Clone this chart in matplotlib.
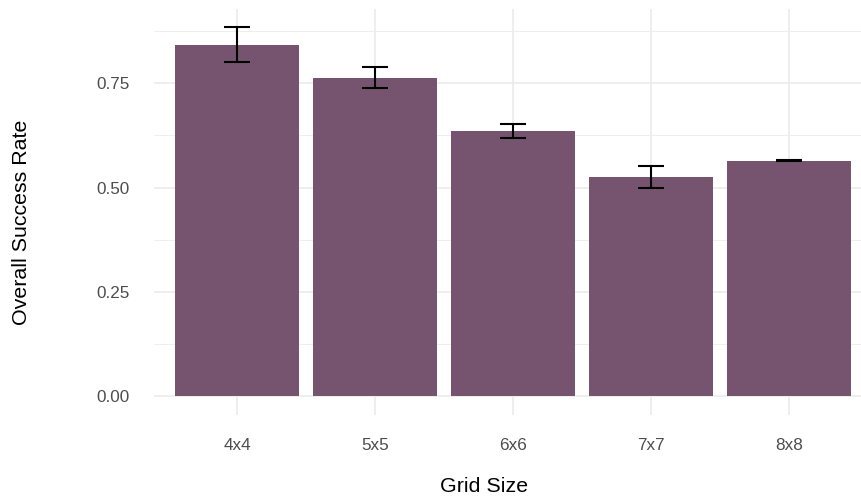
import matplotlib
matplotlib.use("Agg")
import matplotlib.pyplot as plt
import numpy as np

# Overall success rate by grid size (mean ± error)
grid_sizes = ["4x4", "5x5", "6x6", "7x7", "8x8"]
success_rate = [0.842, 0.764, 0.635, 0.526, 0.565]
rate_error = [0.042, 0.0245, 0.017, 0.0265, 0.001]
y_ticks = [0.00, 0.25, 0.50, 0.75]
y_tick_labels = ["0.00", "0.25", "0.50", "0.75"]

plt.rcParams["font.family"] = ["Liberation Sans", "DejaVu Sans"]

W, H = 862, 499
fig = plt.figure(figsize=(W / 100, H / 100), dpi=100)

# panel placement in pixels
left_px, right_px, top_px, bottom_px = 154.2, 871.8, 9.0, 414.7
ax = fig.add_axes([left_px / W, 1 - bottom_px / H,
                   (right_px - left_px) / W, (bottom_px - top_px) / H])

x = np.arange(len(grid_sizes))
bar_color = "#765470"
grid_color = "#EBEBEB"

ax.bar(x, success_rate, width=0.9, color=bar_color, zorder=2)
ax.errorbar(x, success_rate, yerr=rate_error, fmt="none", ecolor="black",
            elinewidth=1.5, capsize=9.7, capthick=1.5, zorder=3)

ax.set_xlim(-0.6, len(grid_sizes) - 0.4)
top = max(np.array(success_rate) + np.array(rate_error))
ax.set_ylim(-0.05 * top, 1.05 * top)

ax.set_xticks(x)
ax.set_xticklabels(grid_sizes)
ax.set_yticks(y_ticks)
ax.set_yticklabels(y_tick_labels)
ax.set_yticks([0.125, 0.375, 0.625, 0.875], minor=True)

ax.tick_params(axis="both", which="both", length=0, colors="#4D4D4D",
               labelsize=12.3)
ax.tick_params(axis="x", pad=17)
ax.tick_params(axis="y", pad=18)

ax.grid(True, which="major", axis="both", color=grid_color, linewidth=1.2, zorder=0)
ax.grid(True, which="minor", axis="y", color=grid_color, linewidth=0.6, zorder=0)
ax.set_axisbelow(True)

for s in ax.spines.values():
    s.set_visible(False)

ax.set_xlabel("Grid Size", fontsize=15.4, color="black")
ax.set_ylabel("Overall Success Rate", fontsize=15.4, color="black")
ax.xaxis.set_label_coords((484.5 - left_px) / (right_px - left_px),
                          -(487 - bottom_px) / (bottom_px - top_px))
ax.yaxis.set_label_coords(-(154.2 - 22) / (right_px - left_px),
                          (bottom_px - 222) / (bottom_px - top_px))
ax.xaxis.label.set_va("center")
ax.yaxis.label.set_va("center")

fig.savefig("out.png", dpi=100, facecolor="white")
